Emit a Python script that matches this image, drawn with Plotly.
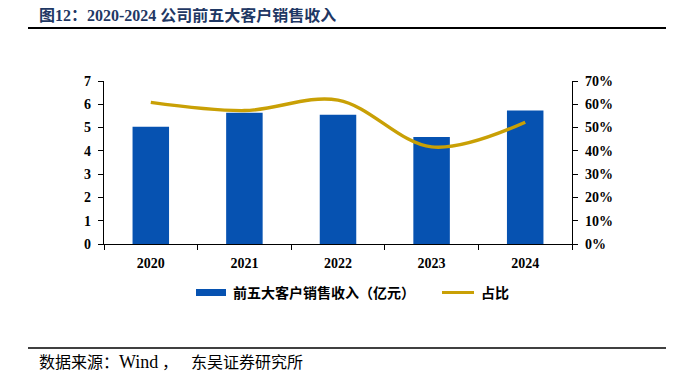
import plotly.graph_objects as go

years = ["2020", "2021", "2022", "2023", "2024"]
revenue = [5.04, 5.64, 5.55, 4.59, 5.73]
share = [0.608, 0.573, 0.618, 0.417, 0.523]

title_text = "图12：2020-2024 公司前五大客户销售收入"
source_parts = ["数据来源：", "Wind", "，", "东吴证券研究所"]
bar_name = "前五大客户销售收入（亿元）"
line_name = "占比"

OFF = 8  # page body margin
W, H = 674, 389
L, R, T, B = 104 - OFF, 572 - OFF, 81 - OFF, 244 - OFF  # plot area in pixels

def px(x):
    return (x - OFF - L) / (R - L)

def py(y):
    return (B - (y - OFF)) / (B - T)

BAR_C = "#0652B1"
LINE_C = "#C9A005"
NUM_FONT = "Liberation Serif, Times New Roman, serif"
CJK_FONT = "Liberation Serif, Noto Sans CJK SC, serif"

fig = go.Figure()
fig.add_trace(go.Bar(x=years, y=revenue, name=bar_name, marker_color=BAR_C,
                     marker_line_width=0, yaxis="y", showlegend=False))
fig.add_trace(go.Scatter(x=years, y=share, name=line_name, mode="lines",
                         line=dict(color=LINE_C, width=3.4, shape="spline", smoothing=1.0),
                         yaxis="y2", showlegend=False))

tickfont = dict(family=NUM_FONT, size=14, color="black", weight="bold")
fig.update_layout(
    width=W, height=H,
    margin=dict(l=L, r=W - R, t=T, b=H - B),
    paper_bgcolor="white", plot_bgcolor="white",
    bargap=0.61,
    xaxis=dict(type="category", showgrid=False, showline=True, linecolor="black", linewidth=1.2,
               ticks="outside", tickson="boundaries", ticklen=5, tickcolor="black",
               ticklabelstandoff=6, tickfont=tickfont),
    yaxis=dict(range=[0, 7], dtick=1, showgrid=False, showline=True, linecolor="black",
               linewidth=1.2, ticks="outside", ticklen=5, tickcolor="black", zeroline=False,
               ticklabelstandoff=4, tickfont=tickfont),
    yaxis2=dict(range=[0, 0.7], dtick=0.1, tickformat=".0%", overlaying="y", side="right",
                showgrid=False, showline=True, linecolor="black", linewidth=1.2,
                ticks="outside", ticklen=5, tickcolor="black", zeroline=False,
                ticklabelstandoff=4, tickfont=tickfont),
    showlegend=False,
)

shapes = []
# title underline
shapes.append(dict(type="line", xref="paper", yref="paper", x0=px(28), x1=px(680),
                   y0=py(28), y1=py(28), line=dict(color="black", width=2)))
# footer line
shapes.append(dict(type="line", xref="paper", yref="paper", x0=px(28), x1=px(680),
                   y0=py(348), y1=py(348), line=dict(color="black", width=1.5)))
# legend symbols
shapes.append(dict(type="rect", xref="paper", yref="paper", x0=px(196), x1=px(226),
                   y0=py(296), y1=py(289), fillcolor=BAR_C, line=dict(width=0)))
shapes.append(dict(type="line", xref="paper", yref="paper", x0=px(442), x1=px(474),
                   y0=py(292.5), y1=py(292.5), line=dict(color=LINE_C, width=3)))
fig.update_layout(shapes=shapes)

ann = [
    dict(text=title_text, x=px(37), y=py(15), xanchor="left", yanchor="middle",
         font=dict(family=CJK_FONT, size=16, color="#1F3864", weight="bold")),
    dict(text=bar_name, x=px(231), y=py(292.5), xanchor="left", yanchor="middle",
         font=dict(family=CJK_FONT, size=14, color="black", weight="bold")),
    dict(text=line_name, x=px(479), y=py(292.5), xanchor="left", yanchor="middle",
         font=dict(family=CJK_FONT, size=14, color="black", weight="bold")),
]
for txt, x0, sz in zip(source_parts, [37, 117, 160, 189], [16, 18, 16, 16]):
    ann.append(dict(text=txt, x=px(x0), y=py(362), xanchor="left", yanchor="middle",
                    font=dict(family=CJK_FONT, size=sz, color="black")))
for a in ann:
    a.update(xref="paper", yref="paper", showarrow=False)
fig.update_layout(annotations=ann)

fig.write_html("out.html")
